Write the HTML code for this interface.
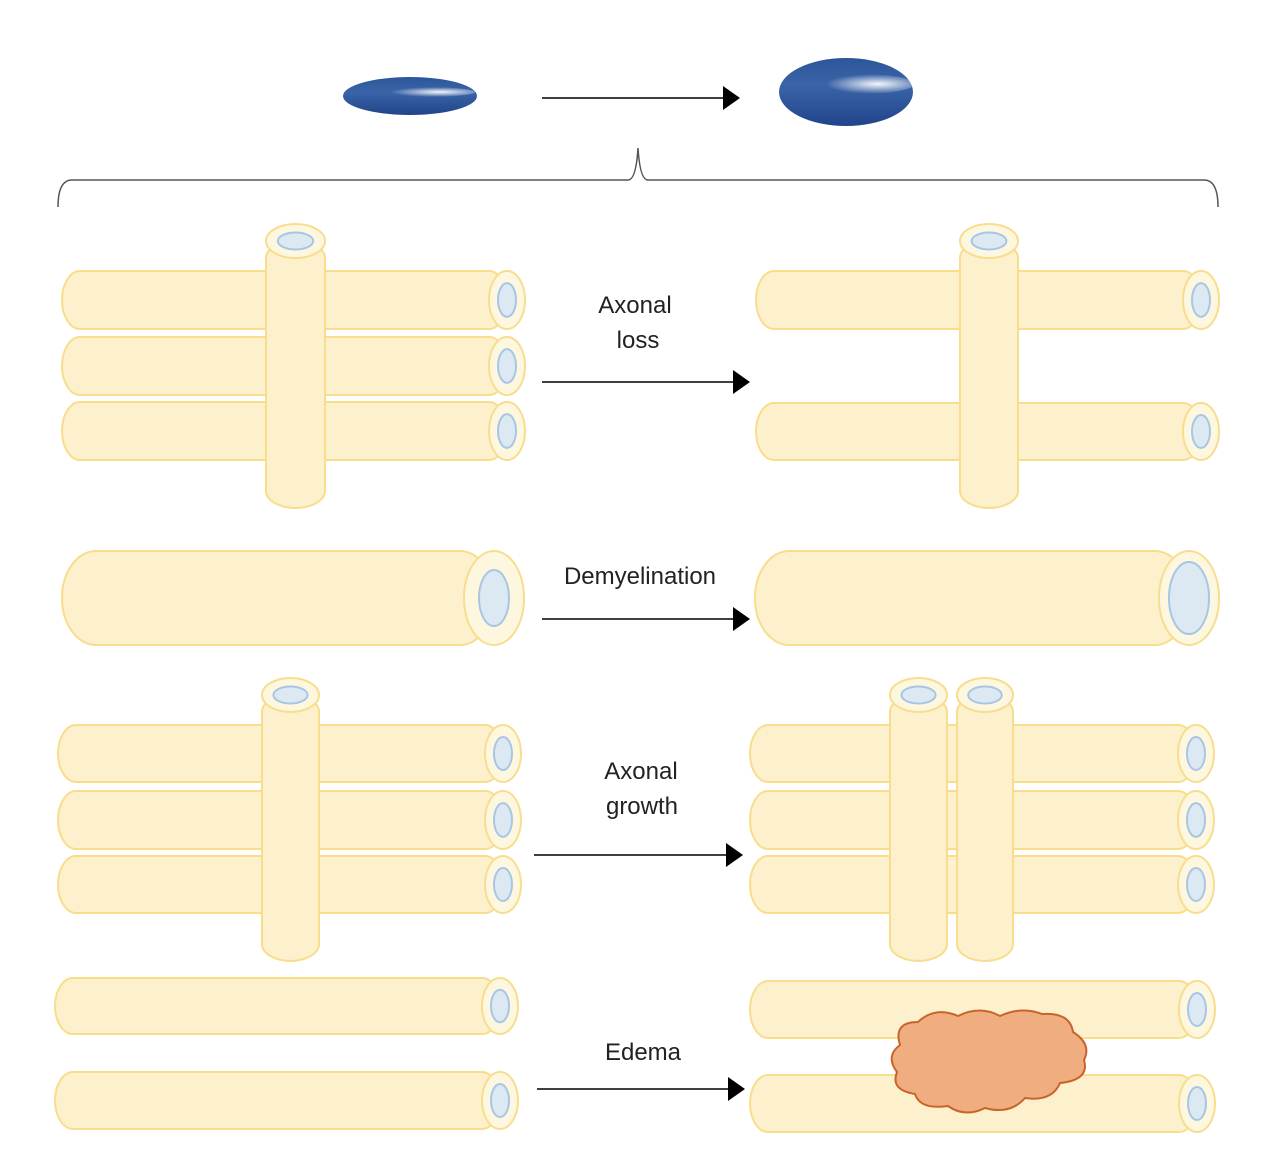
<!DOCTYPE html>
<html><head><meta charset="utf-8"><style>
html,body{margin:0;padding:0;background:#fff;width:1280px;height:1157px;overflow:hidden}
svg{display:block}
text{font-family:"Liberation Sans",sans-serif;font-size:24px;fill:#222;text-anchor:middle}
</style></head><body>
<svg id="s" width="1280" height="1157" viewBox="0 0 1280 1157">
<defs>
<linearGradient id="g2" x1="0" y1="0" x2="0" y2="1">
<stop offset="0" stop-color="#2c559a"/><stop offset="0.4" stop-color="#3a64a8"/><stop offset="1" stop-color="#21448a"/>
</linearGradient>
<radialGradient id="hl" cx="0.65" cy="0.5" r="0.5">
<stop offset="0" stop-color="#ffffff" stop-opacity="0.95"/><stop offset="1" stop-color="#ffffff" stop-opacity="0"/>
</radialGradient>
</defs>
<ellipse cx="410" cy="96" rx="67" ry="19" fill="url(#g2)"/>
<ellipse cx="425" cy="92" rx="50" ry="5" fill="url(#hl)"/>
<ellipse cx="846" cy="92" rx="67" ry="34" fill="url(#g2)"/>
<ellipse cx="862" cy="84" rx="52" ry="10" fill="url(#hl)"/>
<path d="M58,207 Q58,180 72,180 L628,180 Q636,180 638,148 Q640,180 648,180 L1204,180 Q1218,180 1218,207" fill="none" stroke="#555" stroke-width="1.5"/>
<g id="c"></g>
<text x="635" y="313">Axonal</text><text x="638" y="348">loss</text>
<text x="640" y="584">Demyelination</text>
<text x="641" y="779">Axonal</text><text x="642" y="814">growth</text>
<text x="643" y="1060">Edema</text>
</svg>
<script>
var g=document.getElementById('c'),h='';
var F='#fdf0cc',S='#f8dd8c',C='#fef7e0',IF='#dce9f3',IS='#a8c6e4';
function arrow(x0,y,x1){h+='<line x1="'+x0+'" y1="'+y+'" x2="'+(x1-16)+'" y2="'+y+'" stroke="#000" stroke-width="1.5"/><polygon points="'+(x1-17)+','+(y-12)+' '+x1+','+y+' '+(x1-17)+','+(y+12)+'" fill="#000"/>';}
function ht(x0,y0,x1,y1,big){var hh=y1-y0,r=hh/2,cy=y0+r,erx=big?30:18,irx=big?(big==2?20:15):9,iry=big?(big==2?36:28):r*0.58;
h+='<rect x="'+x0+'" y="'+y0+'" width="'+(x1-x0-erx)+'" height="'+hh+'" rx="'+(big?34:18)+'" ry="'+r+'" fill="'+F+'" stroke="'+S+'" stroke-width="2"/>';
h+='<ellipse cx="'+(x1-erx)+'" cy="'+cy+'" rx="'+erx+'" ry="'+r+'" fill="'+C+'" stroke="'+S+'" stroke-width="2"/>';
h+='<ellipse cx="'+(x1-erx)+'" cy="'+cy+'" rx="'+irx+'" ry="'+iry+'" fill="'+IF+'" stroke="'+IS+'" stroke-width="2"/>';}
function vt(x0,x1,y0,y1){var w=x1-x0,cx=x0+w/2,ry=17;
h+='<rect x="'+x0+'" y="'+(y0+ry)+'" width="'+w+'" height="'+(y1-y0-ry)+'" rx="'+(w/2)+'" ry="'+ry+'" fill="'+F+'" stroke="'+S+'" stroke-width="2"/>';
h+='<ellipse cx="'+cx+'" cy="'+(y0+ry)+'" rx="'+(w/2)+'" ry="'+ry+'" fill="'+C+'" stroke="'+S+'" stroke-width="2"/>';
h+='<ellipse cx="'+cx+'" cy="'+(y0+ry)+'" rx="'+(w*0.3)+'" ry="'+(ry*0.5)+'" fill="'+IF+'" stroke="'+IS+'" stroke-width="2"/>';}
ht(62,271,525,329);ht(62,337,525,395);ht(62,402,525,460);vt(266,325,224,508);
ht(756,271,1219,329);ht(756,403,1219,460);vt(960,1018,224,508);
arrow(542,382,750);
ht(62,551,524,645,1);ht(755,551,1219,645,2);
arrow(542,619,750);
ht(58,725,521,782);ht(58,791,521,849);ht(58,856,521,913);vt(262,319,678,961);
ht(750,725,1214,782);ht(750,791,1214,849);ht(750,856,1214,913);vt(890,947,678,961);vt(957,1013,678,961);
arrow(534,855,743);
ht(55,978,518,1034);ht(55,1072,518,1129);
ht(750,981,1215,1038);ht(750,1075,1215,1132);
arrow(537,1089,745);
h+='<path d="M900,1045 Q893,1022 918,1022 Q935,1006 958,1016 Q980,1005 1000,1016 Q1022,1006 1042,1014 Q1070,1012 1073,1032 Q1092,1044 1084,1060 Q1090,1080 1060,1083 Q1052,1102 1025,1098 Q1010,1115 985,1108 Q965,1118 948,1106 Q920,1110 915,1094 Q890,1090 897,1072 Q885,1056 900,1045 Z" fill="#f0ae80" stroke="#c8642a" stroke-width="2"/>';
arrow(542,98,740);
g.innerHTML=h;
</script>
</body></html>
